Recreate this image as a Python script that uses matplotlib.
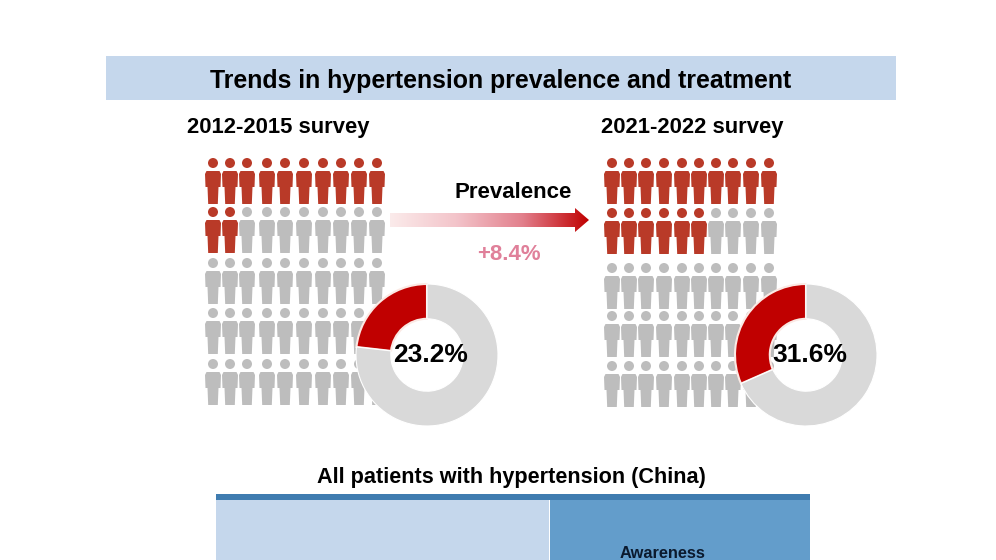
#!/usr/bin/env python

# Hypertension prevalence infographic, laid out in pixel coordinates

import numpy as np
import matplotlib
matplotlib.use("Agg")
import matplotlib.pyplot as plt
from matplotlib.colors import LinearSegmentedColormap
from matplotlib.patches import Circle, Polygon, Rectangle

surveys = ["2012-2015 survey", "2021-2022 survey"]
prevalence = [23.2, 31.6]
red_people = [12, 16]
change_label = "+8.4%"

W, H = 996, 560
RED = "#B93A28"
GREY = "#BDBDBD"

# column and row positions of the figures, read in pixels
left_cols = [213, 230, 247, 267, 285, 304, 323, 341, 359, 377]
left_rows = [163, 212, 263, 313, 364]
right_cols = [612, 629, 646, 664, 682, 699, 716, 733, 751, 769]
right_rows = [163, 213, 268, 316, 366]

plt.rcParams["font.family"] = ["Liberation Sans", "DejaVu Sans"]

fig = plt.figure(figsize=(W / 100, H / 100), dpi=100, facecolor="white")
ax = fig.add_axes([0, 0, 1, 1])
ax.set_xlim(0, W)
ax.set_ylim(H, 0)
ax.set_axis_off()


def person(x, y, color):
    ax.add_patch(Circle((x, y), 5, facecolor=color, edgecolor="none"))
    body = [(-6.5, 8), (6.5, 8), (8, 11), (7.5, 24), (5.5, 24), (4.8, 41),
            (-4.8, 41), (-5.5, 24), (-7.5, 24), (-8, 11)]
    ax.add_patch(Polygon([(x + a, y + b) for a, b in body], facecolor=color, edgecolor="none"))


def people(cols, rows, n_red):
    i = 0
    for y in rows:
        for x in cols:
            person(x, y, RED if i < n_red else GREY)
            i += 1


def donut(cx, cy, r, value, label):
    d = fig.add_axes([(cx - r - 2) / W, 1 - (cy + r + 2) / H, (2 * r + 4) / W, (2 * r + 4) / H])
    d.patch.set_alpha(0)
    wedges, _ = d.pie(
        [value, 100 - value],
        colors=["#C00000", "#D9D9D9"],
        startangle=90,
        counterclock=True,
        radius=1.0,
        wedgeprops={"width": 0.49},
    )
    # the pale outline only shows round the red part and on the picture behind
    wedges[0].set_edgecolor("#FBE9E4")
    wedges[0].set_linewidth(1.5)
    wedges[1].set_edgecolor("white")
    wedges[1].set_linewidth(0.8)
    d.set_xlim(-(r + 2) / r, (r + 2) / r)
    d.set_ylim(-(r + 2) / r, (r + 2) / r)
    d.text(0.05, 0, label, ha="center", va="center", fontsize=19, fontweight="bold", color="black")


# header band
ax.add_patch(Rectangle((106, 56), 790, 44, facecolor="#C5D7EC", edgecolor="none"))
ax.text(501, 81, "Trends in hypertension prevalence and treatment", ha="center", va="center",
        fontsize=17.9, fontweight="bold", color="black")

ax.text(278, 127, surveys[0], ha="center", va="center", fontsize=15.8, fontweight="bold")
ax.text(692, 127, surveys[1], ha="center", va="center", fontsize=15.8, fontweight="bold")

people(left_cols, left_rows, red_people[0])
people(right_cols, right_rows, red_people[1])

donut(427, 355, 71, prevalence[0], f"{prevalence[0]}%")
donut(806, 355, 71, prevalence[1], f"{prevalence[1]}%")

# gradient arrow
ax.text(513, 192, "Prevalence", ha="center", va="center", fontsize=16, fontweight="bold")
cmap = LinearSegmentedColormap.from_list("arrow", ["#FBEBEB", "#F3C4CA", "#E27F8C", "#C00000"])
grad = ax.imshow(np.linspace(0, 1, 256).reshape(1, -1), cmap=cmap, extent=(390, 589, 232, 207),
                 aspect="auto", zorder=2)
outline = [(390, 213), (575, 213), (575, 208), (589, 220), (575, 232), (575, 227), (390, 227)]
clip = Polygon(outline, transform=ax.transData, facecolor="none", edgecolor="none")
ax.add_patch(clip)
grad.set_clip_path(clip)
ax.set_xlim(0, W)
ax.set_ylim(H, 0)
ax.text(509, 254, change_label, ha="center", va="center", fontsize=16, fontweight="bold", color="#E0809A")

# lower panel, cut off by the edge of the picture
ax.text(511, 477, "All patients with hypertension (China)", ha="center", va="center",
        fontsize=15.6, fontweight="bold")
ax.add_patch(Rectangle((216, 500), 333, 60, facecolor="#C5D7EC", edgecolor="none"))
ax.add_patch(Rectangle((550, 500), 260, 60, facecolor="#639DCB", edgecolor="none"))
ax.add_patch(Rectangle((216, 494), 594, 6, facecolor="#3F7CB0", edgecolor="none"))
ax.text(663, 553, "Awareness", ha="center", va="center", fontsize=11.8, fontweight="bold", color="#0B1A2E")

fig.savefig("out.png", dpi=100)
